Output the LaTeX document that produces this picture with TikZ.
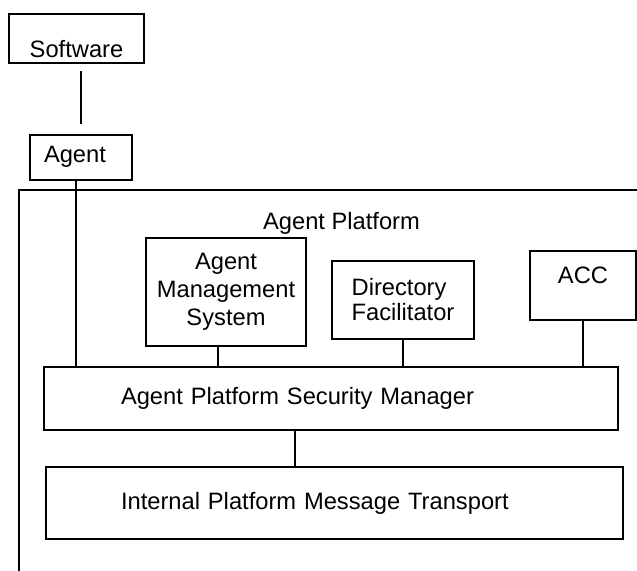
\documentclass[tikz,border=0pt]{standalone}
\usepackage{fontspec}
\setmainfont{Liberation Sans}
\usetikzlibrary{positioning}

\begin{document}
\begin{tikzpicture}[x=0.5pt, y=-0.5pt, line width=1pt,
  font=\fontsize{11.85}{14}\selectfont,
  box/.style={rectangle, draw, inner sep=0pt}]
\useasboundingbox (0,0) rectangle (637,571);

% Software and its agent, outside the platform
\node (sw) [box, anchor=north west, minimum width=67.5pt, text height=22pt, text depth=2.5pt] at (8,13) {Software};
\node (agent) [box, below right=35pt and 10.5pt of sw.south west, text width=37pt, inner xsep=7pt, align=left, text height=14pt, text depth=8.5pt] {Agent};

% The platform frame, open at the right and at the bottom
\coordinate (pfcorner) at (18.5,190);
\coordinate (pfbottom) at (18.5,571);
\coordinate (pfright) at (637,190);
\draw (pfbottom) -- (pfcorner) -- (pfright);
\node (pflabel) [anchor=base] at (341.5,230) {Agent Platform};

\node (ams) [box, anchor=north west, minimum width=80pt, minimum height=54pt, align=center] at (145,237) {Agent\\Management\\System};
\node (df) [box, anchor=north west, minimum width=71pt, minimum height=39pt, align=left, font=\fontsize{11.85}{12.5}\selectfont] at (331,260) {Directory\\Facilitator};
\node (acc) [box, anchor=north west, minimum width=53pt, text height=16.5pt, text depth=18pt] at (529,250) {ACC};

\node (apsm) [box, anchor=north west, text width=210pt, inner xsep=38.5pt, align=left, minimum height=31.5pt] at (43,366) {Agent Platform Security Manager};
\node (ipmt) [box, below right=17.5pt and 1pt of apsm.south west, text width=213.5pt, inner xsep=37.5pt, align=left, minimum height=36pt] {Internal Platform Message Transport};

% Connecting the boxes
\coordinate (agentfoot) at ([xshift=-2.5pt]agent.south);
\coordinate (amsfoot) at ([xshift=-4pt]ams.south);
\coordinate (apsmfoot) at ([xshift=126pt]apsm.south west);
\path (sw.south -| agent.north) edge [shorten <=3.5pt, shorten >=5pt] (agent.north);
\path (agentfoot) edge (agentfoot |- apsm.north);
\path (amsfoot) edge (amsfoot |- apsm.north);
\path (df.south) edge (df.south |- apsm.north);
\path (acc.south) edge (acc.south |- apsm.north);
\path (apsmfoot) edge (apsmfoot |- ipmt.north);
\end{tikzpicture}
\end{document}
